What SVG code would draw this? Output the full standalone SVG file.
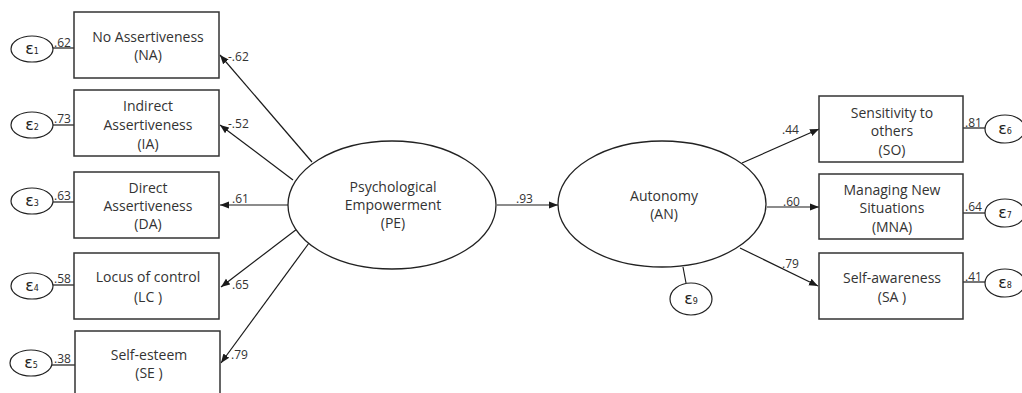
<svg xmlns="http://www.w3.org/2000/svg" width="1022" height="393" viewBox="0 0 1022 393">
<defs>
<marker id="ah" viewBox="0 0 10 10" refX="10" refY="5" markerWidth="9" markerHeight="9" markerUnits="userSpaceOnUse" orient="auto">
<path d="M0,1 L10,5 L0,9 Z" fill="#1a1a1a"/>
</marker>
<style>
.box{fill:#fff;stroke:#333;stroke-width:1.5}
.lat{fill:#fff;stroke:#222;stroke-width:1.3}
.err{fill:#fff;stroke:#222;stroke-width:1.2}
.t{font-family:"Open Sans","Noto Sans",sans-serif;font-size:14px;fill:#333;text-anchor:middle}
.n{font-family:"Open Sans","Noto Sans",sans-serif;font-size:12px;fill:#333}
.e{font-family:"DejaVu Sans","Noto Sans",sans-serif;font-size:16px;fill:#222;text-anchor:middle}
.s{font-size:8px}
.c{stroke:#1a1a1a;stroke-width:1.2;fill:none}
.ca{stroke:#1a1a1a;stroke-width:1.2;fill:none;marker-end:url(#ah)}
</style>
</defs>
<rect width="1022" height="393" fill="#fff"/>

<g id="connectors">
<line class="ca" x1="312" y1="162" x2="220" y2="55"/>
<line class="ca" x1="293" y1="180" x2="220" y2="125"/>
<line class="ca" x1="288" y1="205" x2="220" y2="205"/>
<line class="ca" x1="297" y1="229" x2="221" y2="287"/>
<line class="ca" x1="309" y1="243" x2="221" y2="363"/>
<line class="ca" x1="497" y1="205" x2="558" y2="205"/>
<line class="ca" x1="742" y1="163" x2="819" y2="129"/>
<line class="ca" x1="767" y1="207" x2="819" y2="207"/>
<line class="ca" x1="740" y1="248" x2="818" y2="286"/>
<line class="c" x1="683" y1="267" x2="686" y2="283"/>
<line class="c" x1="53" y1="48" x2="74" y2="48"/>
<line class="c" x1="53" y1="125" x2="74" y2="125"/>
<line class="c" x1="53" y1="202" x2="74" y2="202"/>
<line class="c" x1="53" y1="285" x2="74" y2="285"/>
<line class="c" x1="52" y1="365" x2="75" y2="365"/>
<line class="c" x1="963" y1="128" x2="985" y2="128"/>
<line class="c" x1="963" y1="213" x2="985" y2="213"/>
<line class="c" x1="963" y1="282" x2="985" y2="282"/>
<text class="n" x="228" y="61">-.62</text>
<text class="n" x="228" y="128">-.52</text>
<text class="n" x="232" y="203">.61</text>
<text class="n" x="232" y="289">.65</text>
<text class="n" x="231" y="359">.79</text>
<text class="n" x="516" y="203">.93</text>
<text class="n" x="782" y="134">.44</text>
<text class="n" x="783" y="206">.60</text>
<text class="n" x="782" y="268">.79</text>
<text class="n" x="54" y="47">.62</text>
<text class="n" x="54" y="123">.73</text>
<text class="n" x="54" y="200">.63</text>
<text class="n" x="54" y="283">.58</text>
<text class="n" x="54" y="363">.38</text>
<text class="n" x="965" y="127">.81</text>
<text class="n" x="965" y="211">.64</text>
<text class="n" x="965" y="281">.41</text>
</g>

<g id="NA"><rect class="box" x="74" y="12" width="145" height="66"/><text class="t" x="148" y="42">No Assertiveness</text><text class="t" x="148" y="60">(NA)</text></g>
<g id="IA"><rect class="box" x="74" y="90" width="145" height="66"/><text class="t" x="148" y="111">Indirect</text><text class="t" x="148" y="130">Assertiveness</text><text class="t" x="148" y="149">(IA)</text></g>
<g id="DA"><rect class="box" x="74" y="172" width="145" height="66"/><text class="t" x="148" y="193">Direct</text><text class="t" x="148" y="211">Assertiveness</text><text class="t" x="148" y="229">(DA)</text></g>
<g id="LC"><rect class="box" x="74" y="253" width="145" height="66"/><text class="t" x="148" y="282">Locus of control</text><text class="t" x="148" y="302">(LC )</text></g>
<g id="SE"><rect class="box" x="75" y="331" width="145" height="70"/><text class="t" x="149" y="360">Self-esteem</text><text class="t" x="149" y="378">(SE )</text></g>

<g id="PE"><ellipse class="lat" cx="392" cy="205" rx="104" ry="64"/><text class="t" x="393" y="192">Psychological</text><text class="t" x="393" y="210">Empowerment</text><text class="t" x="393" y="228">(PE)</text></g>
<g id="AN"><ellipse class="lat" cx="662" cy="204" rx="104" ry="63"/><text class="t" x="664" y="201">Autonomy</text><text class="t" x="664" y="219">(AN)</text></g>

<g id="SO"><rect class="box" x="819" y="96" width="144" height="66"/><text class="t" x="892" y="118">Sensitivity to</text><text class="t" x="892" y="136">others</text><text class="t" x="892" y="155">(SO)</text></g>
<g id="MNA"><rect class="box" x="819" y="174" width="144" height="65"/><text class="t" x="892" y="195">Managing New</text><text class="t" x="892" y="213">Situations</text><text class="t" x="892" y="232">(MNA)</text></g>
<g id="SA"><rect class="box" x="819" y="253" width="144" height="66"/><text class="t" x="892" y="283">Self-awareness</text><text class="t" x="892" y="302">(SA )</text></g>

<g id="e1"><ellipse class="err" cx="32" cy="49" rx="21" ry="13"/><text class="e" x="32" y="54">ε<tspan class="s">1</tspan></text></g>
<g id="e2"><ellipse class="err" cx="32" cy="125" rx="21" ry="13"/><text class="e" x="32" y="130">ε<tspan class="s">2</tspan></text></g>
<g id="e3"><ellipse class="err" cx="32" cy="201" rx="21" ry="13"/><text class="e" x="32" y="206">ε<tspan class="s">3</tspan></text></g>
<g id="e4"><ellipse class="err" cx="32" cy="286" rx="21" ry="13"/><text class="e" x="32" y="291">ε<tspan class="s">4</tspan></text></g>
<g id="e5"><ellipse class="err" cx="31" cy="363" rx="21" ry="13"/><text class="e" x="31" y="368">ε<tspan class="s">5</tspan></text></g>
<g id="e6"><ellipse class="err" cx="1005" cy="129" rx="20" ry="14"/><text class="e" x="1005" y="134">ε<tspan class="s">6</tspan></text></g>
<g id="e7"><ellipse class="err" cx="1005" cy="213" rx="20" ry="14"/><text class="e" x="1005" y="218">ε<tspan class="s">7</tspan></text></g>
<g id="e8"><ellipse class="err" cx="1005" cy="283" rx="20" ry="14"/><text class="e" x="1005" y="288">ε<tspan class="s">8</tspan></text></g>
<g id="e9"><ellipse class="err" cx="691" cy="299" rx="21" ry="16"/><text class="e" x="691" y="304">ε<tspan class="s">9</tspan></text></g>
</svg>
